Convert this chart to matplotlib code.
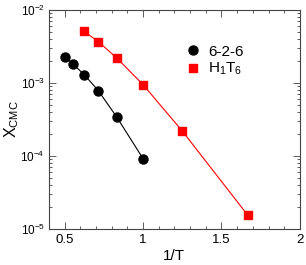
import matplotlib
matplotlib.use("Agg")
import matplotlib.pyplot as plt
from matplotlib.lines import Line2D
from matplotlib.ticker import MultipleLocator, LogLocator, NullFormatter

plt.rcParams['font.family'] = ['Liberation Sans', 'DejaVu Sans']
plt.rcParams['mathtext.fontset'] = 'custom'
plt.rcParams['mathtext.rm'] = 'Liberation Sans'
plt.rcParams['mathtext.it'] = 'Liberation Sans'

# 6-2-6 surfactant
inv_T_626 = [0.5, 0.556, 0.625, 0.714, 0.833, 1.0]
xcmc_626 = [2.3e-3, 1.8e-3, 1.3e-3, 7.9e-4, 3.4e-4, 9.2e-5]

# H1T6 surfactant
inv_T_h1t6 = [0.625, 0.714, 0.833, 1.0, 1.25, 1.667]
xcmc_h1t6 = [5.1e-3, 3.7e-3, 2.2e-3, 9.5e-4, 2.2e-4, 1.55e-5]

fig = plt.figure(figsize=(3.06, 2.65), dpi=100)
ax = fig.add_axes([0.160, 0.136, 0.820, 0.826])

ax.plot(inv_T_626, xcmc_626, '-o', color='black', lw=0.8, markersize=6.5)
ax.plot(inv_T_h1t6, xcmc_h1t6, '-s', color='red', lw=0.8, markersize=5.5)

ax.set_yscale('log')
ax.set_xlim(0.4, 2.0)
ax.set_ylim(1e-5, 1e-2)
ax.set_xticks([0.5, 1, 1.5, 2])
ax.set_xticklabels(['0.5', '1', '1.5', '2'])
ax.xaxis.set_minor_locator(MultipleLocator(0.1))
ax.yaxis.set_minor_locator(LogLocator(base=10, subs=range(2, 10)))
ax.yaxis.set_minor_formatter(NullFormatter())

ax.tick_params(which='both', direction='in', top=True, right=True,
               labelsize=9.5, width=0.6, color='#444444')
ax.tick_params(which='major', length=5)
ax.tick_params(which='minor', length=2.5)
ax.tick_params(axis='y', labelsize=8.5, pad=3)
for s in ax.spines.values():
    s.set_linewidth(0.8)
    s.set_color('#444444')

ax.set_xlabel('1/T', fontsize=11, labelpad=2)
ax.set_ylabel(r'X$_{\rm CMC}$', fontsize=11.5, labelpad=0)
ax.yaxis.set_label_coords(-0.11, 0.5)

handles = [Line2D([], [], ls='none', marker='o', color='black', markersize=6.5),
           Line2D([], [], ls='none', marker='s', color='red', markersize=5.5)]
ax.legend(handles, ['6-2-6', r'H$_1$T$_6$'], loc='upper left',
          bbox_to_anchor=(0.52, 0.87), frameon=False, fontsize=11,
          handlelength=1.0, handletextpad=0.5, labelspacing=0.15,
          borderaxespad=0)

fig.savefig('out.png', dpi=100)
